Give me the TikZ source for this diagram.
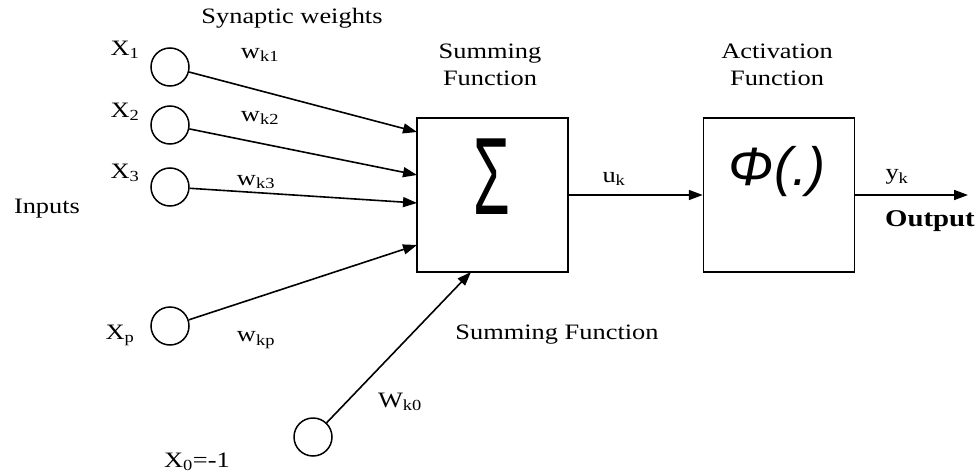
\documentclass[tikz,border=0pt]{standalone}
\usepackage{fontspec}
\setmainfont{Liberation Serif}[FakeStretch=1.2]
\newfontfamily\symfont{Liberation Sans}
\usepackage{tikz}
\usetikzlibrary{arrows.meta,positioning}

\begin{document}
\begin{tikzpicture}[x=1pt, y=-1pt,
  neuron/.style={draw, circle, line width=1.5pt, minimum size=38pt, inner sep=0pt},
  block/.style={draw, line width=1.5pt, minimum width=151pt, minimum height=154pt, inner sep=0pt},
  lbl/.style={font=\fontsize{22}{27}\selectfont, inner sep=0pt, align=center},
  arr/.style={-{Triangle[length=14pt, width=10pt]}, line width=1.6pt},
]
  \useasboundingbox (0,0) rectangle (979,476);

  % input neurons
  \node[neuron] (in1) at (170,67) {};
  \node[neuron] (in2) at (170,125) {};
  \node[neuron] (in3) at (170,187) {};
  \node[neuron] (inp) at (170,326) {};
  \node[neuron] (in0) at (313,437) {};

  % blocks
  \node[block] (sum) at (492.5,195) {};
  \node[block] (act) at (779,195) {};
  \node[inner sep=0pt] (sigma) at (492,177) {\scalebox{0.54}[1]{\symfont\fontsize{110}{110}\selectfont Σ}};
  \node[inner sep=0pt] (phi) at (777,172) {\symfont\itshape\fontsize{54}{54}\selectfont Φ(.)};

  % arrow end points
  \coordinate (s1) at (417,132);
  \coordinate (s2) at (417,175);
  \coordinate (s3) at (417,203);
  \coordinate (sp) at (417,245);
  \coordinate (s0) at (471,272);
  \coordinate (out) at (968,195);

  \draw[arr] (in1) -- (s1);
  \draw[arr] (in2) -- (s2);
  \draw[arr] (in3) -- (s3);
  \draw[arr] (inp) -- (sp);
  \draw[arr] (in0) -- (s0);
  \draw[arr] (sum) -- (act);
  \draw[arr] (act) -- (out);

  % labels
  \node[lbl] (syn) at (292,18) {Synaptic weights};
  \node[lbl] (x1) at (125,50) {X\textsubscript{1}};
  \node[lbl] (x2) at (125,112) {X\textsubscript{2}};
  \node[lbl] (x3) at (125,173) {X\textsubscript{3}};
  \node[lbl] (xp) at (120,335) {X\textsubscript{p}};
  \node[lbl] (x0) at (197,462) {X\textsubscript{0}=-1};
  \node[lbl] (inputs) at (47,209) {Inputs};
  \node[lbl] (w1) at (260,55) {w\textsubscript{k1}};
  \node[lbl] (w2) at (260,118) {w\textsubscript{k2}};
  \node[lbl] (w3) at (256,182) {w\textsubscript{k3}};
  \node[lbl] (wp) at (256,340) {w\textsubscript{kp}};
  \node[lbl] (w0) at (400,402) {W\textsubscript{k0}};
  \node[lbl] (sumtop) at (490,65) {Summing\\Function};
  \node[lbl] (acttop) at (777,65) {Activation\\Function};
  \node[lbl] (sumbot) at (557,335) {Summing Function};
  \node[lbl] (uk) at (614,179) {u\textsubscript{k}};
  \node[lbl] (yk) at (897,177) {y\textsubscript{k}};
  \node[lbl, font=\fontsize{24}{28}\selectfont\bfseries] (output) at (930,221) {Output};
\end{tikzpicture}
\end{document}
